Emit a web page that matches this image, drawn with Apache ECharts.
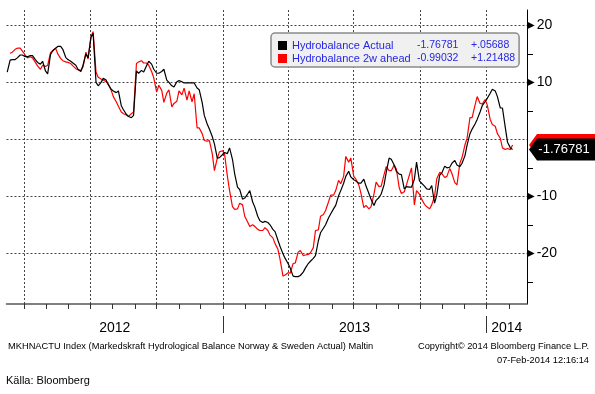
<!DOCTYPE html>
<html><head><meta charset="utf-8">
<script src="https://cdn.jsdelivr.net/npm/echarts@6/dist/echarts.min.js"></script>
<style>html,body{margin:0;padding:0;background:#fff;}#c{width:595px;height:394px;}</style>
</head><body><div id="c"></div>
<script>
// ---------- data (Thursday readings) ----------
const datesThu = [
'2012-03-08','2012-03-15','2012-03-22','2012-03-29','2012-04-05','2012-04-12','2012-04-19','2012-04-26','2012-05-03','2012-05-10',
'2012-05-17','2012-05-24','2012-05-31','2012-06-07','2012-06-14','2012-06-21','2012-06-28','2012-07-05','2012-07-12','2012-07-19',
'2012-07-26','2012-08-02','2012-08-09','2012-08-16','2012-08-23','2012-08-30','2012-09-06','2012-09-13','2012-09-20','2012-09-27',
'2012-10-04','2012-10-11','2012-10-18','2012-10-25','2012-11-01','2012-11-08','2012-11-15','2012-11-22','2012-11-29','2012-12-06',
'2012-12-13','2012-12-20','2012-12-27','2013-01-03','2013-01-10','2013-01-17','2013-01-24','2013-01-31','2013-02-07','2013-02-14',
'2013-02-21','2013-02-28','2013-03-07','2013-03-14','2013-03-21','2013-03-28','2013-04-04','2013-04-11','2013-04-18','2013-04-25',
'2013-05-02','2013-05-09','2013-05-16','2013-05-23','2013-05-30','2013-06-06','2013-06-13','2013-06-20','2013-06-27','2013-07-04',
'2013-07-11','2013-07-18','2013-07-25','2013-08-01','2013-08-08','2013-08-15','2013-08-22','2013-08-29','2013-09-05','2013-09-12',
'2013-09-19','2013-09-26','2013-10-03','2013-10-10','2013-10-17','2013-10-24','2013-10-31','2013-11-07','2013-11-14','2013-11-21',
'2013-11-28','2013-12-05','2013-12-12','2013-12-19','2013-12-26','2014-01-02','2014-01-09','2014-01-16','2014-01-23','2014-01-30',
'2014-02-06'];
const actualThu = [
11.8,14.0,14.3,14.8,14.5,14.7,13.5,13.7,11.5,15.5,
16.3,15.8,14.0,13.4,12.3,13.0,14.3,18.6,9.4,10.7,
9.6,8.5,8.5,5.2,4.0,4.2,11.6,11.8,13.7,12.3,
11.6,12.3,10.0,9.2,10.3,9.9,9.9,9.9,8.7,4.2,
1.8,-0.8,-3.2,-2.3,-1.5,-6.0,-8.8,-10.3,-9.0,-11.9,
-14.3,-14.4,-15.0,-16.2,-18.8,-20.9,-22.6,-24.1,-23.9,-22.6,
-21.4,-20.4,-16.4,-15.0,-13.1,-11.6,-9.0,-6.5,-6.6,-7.3,
-7.7,-8.2,-10.5,-10.7,-9.6,-5.8,-3.5,-5.6,-6.2,-8.3,
-8.4,-4.0,-7.7,-8.7,-8.1,-9.8,-5.9,-5.0,-4.2,-4.5,
-4.2,-1.0,1.8,3.5,5.9,7.2,8.8,7.5,5.5,-0.5,
-1.76781];
const aheadThu = [
null,15.3,16.0,15.5,14.3,14.3,12.9,13.0,13.0,15.6,
15.0,13.8,13.5,12.9,12.2,12.7,14.1,18.9,10.9,10.4,
9.7,7.5,5.8,4.5,4.0,4.8,13.6,13.4,13.0,10.8,
9.5,6.5,8.7,6.3,8.5,9.0,8.5,8.0,2.0,-0.2,
-0.2,-5.5,-2.2,-2.5,-9.0,-12.3,-11.2,-13.5,-15.3,-15.3,
-16.0,-15.5,-16.8,-18.3,-21.1,-23.8,-23.5,-21.7,-19.5,-20.3,
-19.9,-16.0,-13.5,-12.5,-9.8,-9.0,-7.8,-3.0,-3.3,-7.0,
-9.5,-11.6,-11.8,-7.5,-8.2,-4.8,-5.5,-5.2,-9.5,-8.0,
-5.0,-9.0,-10.5,-11.8,-11.5,-6.9,-6.0,-6.5,-6.0,-8.0,
-3.2,0.2,3.8,7.5,6.2,6.0,2.6,1.0,-1.5,-1.6,
-0.99032];
// ---------- data (Monday readings) ----------
const datesMon = [
'2012-03-12','2012-03-19','2012-03-26','2012-04-02','2012-04-09','2012-04-16','2012-04-23','2012-04-30','2012-05-07','2012-05-14',
'2012-05-21','2012-05-28','2012-06-04','2012-06-11','2012-06-18','2012-06-25','2012-07-02','2012-07-09','2012-07-16','2012-07-23',
'2012-07-30','2012-08-06','2012-08-13','2012-08-20','2012-08-27','2012-09-03','2012-09-10','2012-09-17','2012-09-24','2012-10-01',
'2012-10-08','2012-10-15','2012-10-22','2012-10-29','2012-11-05','2012-11-12','2012-11-19','2012-11-26','2012-12-03','2012-12-10',
'2012-12-17','2012-12-24','2012-12-31','2013-01-07','2013-01-14','2013-01-21','2013-01-28','2013-02-04','2013-02-11','2013-02-18',
'2013-02-25','2013-03-04','2013-03-11','2013-03-18','2013-03-25','2013-04-01','2013-04-08','2013-04-15','2013-04-22','2013-04-29',
'2013-05-06','2013-05-13','2013-05-20','2013-05-27','2013-06-03','2013-06-10','2013-06-17','2013-06-24','2013-07-01','2013-07-08',
'2013-07-15','2013-07-22','2013-07-29','2013-08-05','2013-08-12','2013-08-19','2013-08-26','2013-09-02','2013-09-09','2013-09-16',
'2013-09-23','2013-09-30','2013-10-07','2013-10-14','2013-10-21','2013-10-28','2013-11-04','2013-11-11','2013-11-18','2013-11-25',
'2013-12-02','2013-12-09','2013-12-16','2013-12-23','2013-12-30','2014-01-06','2014-01-13','2014-01-20','2014-01-27','2014-02-03'];
const actualMon = [
13.9,14.0,14.8,14.5,14.7,14.0,13.2,12.0,14.9,16.0,
16.3,14.4,13.7,13.0,11.9,15.0,17.9,10.0,10.0,10.4,
8.8,8.2,5.9,4.4,3.8,12.0,12.1,12.9,13.2,11.6,
11.9,10.4,9.4,10.1,10.1,9.9,9.9,9.0,6.5,2.7,
0.5,-3.3,-2.7,-2.5,-3.5,-8.4,-10.5,-9.6,-11.0,-13.5,
-14.6,-14.6,-15.8,-17.7,-20.1,-21.8,-24.0,-24.1,-23.3,-21.8,
-20.9,-17.8,-15.6,-13.8,-12.2,-9.9,-7.7,-5.6,-7.1,-7.7,
-7.0,-9.5,-11.6,-10.2,-8.0,-3.3,-4.5,-6.1,-8.7,-8.4,
-7.0,-7.3,-8.2,-8.8,-11.2,-6.3,-4.7,-4.9,-3.7,-4.8,
-2.9,1.0,2.7,4.8,6.6,8.1,8.5,5.5,2.0,-1.5];
const aheadMon = [
15.1,15.8,16.0,14.8,14.5,13.5,12.3,12.8,15.2,16.0,
14.2,13.6,13.3,12.4,12.1,15.3,18.0,11.8,10.6,10.1,
8.6,6.6,4.8,4.3,4.5,13.3,13.8,13.4,11.9,8.3,
8.6,8.1,5.7,6.7,7.8,6.9,6.6,2.0,1.0,-0.3,
-2.5,-3.3,-2.0,-6.5,-11.8,-12.2,-11.5,-14.5,-15.0,-15.8,
-16.0,-16.0,-17.3,-19.3,-24.0,-23.4,-21.8,-19.8,-20.4,-20.2,
-19.0,-15.9,-13.2,-11.0,-9.8,-7.2,-6.5,-4.0,-6.5,-8.0,
-12.0,-12.2,-9.6,-8.3,-6.2,-5.5,-4.5,-8.5,-9.2,-6.3,
-11.5,-9.6,-11.4,-12.2,-10.0,-5.8,-6.7,-5.1,-7.6,-4.2,
-1.0,3.8,6.0,6.3,7.0,3.5,2.3,0.2,-1.8,-1.8];

const seriesNames = ['Hydrobalance Actual', 'Hydrobalance 2w ahead'];
const lastValueText = ['-1.76781', '-0.99032'];
const changeText = ['+.05688', '+1.21488'];
const yLabelValues = [20, 10, -10, -20];
const yMinorTicks = [-25, -15, -5, 5, 15];
const yGridValues = [20, 10, 0, -10, -20];
const xRange = ['2012-03-07', '2014-02-26'];
const quarterLines = ['2012-04-01','2012-07-01','2012-10-01','2013-01-01','2013-04-01','2013-07-01','2013-10-01','2014-01-01'];
const monthTicks = ['2012-04-01','2012-05-01','2012-06-01','2012-07-01','2012-08-01','2012-09-01','2012-10-01','2012-11-01','2012-12-01',
  '2013-01-01','2013-02-01','2013-03-01','2013-04-01','2013-05-01','2013-06-01','2013-07-01','2013-08-01','2013-09-01','2013-10-01',
  '2013-11-01','2013-12-01','2014-01-01','2014-02-01'];
const yearNames = ['2012', '2013', '2014'];
const yearLabelDates = ['2012-08-04', '2013-07-02', '2014-01-29'];
const yearBreaks = ['2013-01-01', '2014-01-01'];
const footLeft = 'MKHNACTU Index (Markedskraft Hydrological Balance Norway & Sweden Actual) Maltin';
const footRight1 = 'Copyright\u00a9 2014 Bloomberg Finance L.P.';
const footRight2 = '07-Feb-2014 12:16:14';
const sourceText = 'K\u00e4lla: Bloomberg';

// ---------- chart ----------
const P = s => { const d = echarts.time.parse(s); return d && d.getTime ? d.getTime() : +d; };
const SANS = "'Liberation Sans',Arial,sans-serif";
const chart = echarts.init(document.getElementById('c'), null, {renderer: 'canvas'});
const xMin = P(xRange[0]), xMax = P(xRange[1]);
const gridLineStyle = {type: [2, 2], color: '#444', width: 1};
const tagPath = 'path://M0,11 L8,0 L66,0 L66,22 L8,22 Z';
const yearLabelTs = yearLabelDates.map(P);

function merge(dA, vA, dB, vB) {
  const pts = dA.map((d, i) => [P(d), vA[i]]).concat(dB.map((d, i) => [P(d), vB[i]]));
  pts.sort((a, b) => a[0] - b[0]);
  while (pts.length && pts[0][1] == null) pts.shift();
  return pts;
}
const actualData = merge(datesThu, actualThu, datesMon, actualMon);
const aheadData = merge(datesThu, aheadThu, datesMon, aheadMon);
const lastA = actualThu[actualThu.length - 1];
const lastR = aheadThu[aheadThu.length - 1];
const FOOT = {fontSize: 9.3, fontWeight: 'normal', color: '#000', fontFamily: SANS};

chart.setOption({
  animation: false,
  backgroundColor: '#fff',
  grid: {left: 6.5, right: 68, top: 10, bottom: 90, containLabel: false},
  title: [
    {text: footLeft, left: 8, top: 342, padding: 0, textStyle: FOOT},
    {text: footRight1, right: 6, top: 342, padding: 0, textStyle: FOOT},
    {text: footRight2, right: 6, top: 356, padding: 0, textStyle: FOOT},
    {text: sourceText, left: 6, top: 375, padding: 0, textStyle: {fontSize: 11, fontWeight: 'normal', color: '#000', fontFamily: SANS}}
  ],
  legend: {
    left: 271, top: 33, orient: 'vertical', itemWidth: 9, itemHeight: 9, itemGap: 2,
    icon: 'rect', selectedMode: false,
    backgroundColor: '#f0f0f0', borderColor: '#8a8a8a', borderWidth: 1.5, borderRadius: 4,
    padding: [7, 4, 3, 7],
    data: seriesNames,
    formatter: name => {
      const i = seriesNames.indexOf(name);
      return '{n|' + name + '}{v|' + lastValueText[i] + '}{c|' + changeText[i] + '}';
    },
    textStyle: {
      color: '#2626e6', fontFamily: SANS, fontSize: 11,
      rich: {
        n: {width: 125, fontSize: 11, color: '#2626e6', fontFamily: SANS, lineHeight: 13},
        v: {width: 54, fontSize: 10.5, color: '#2626e6', fontFamily: SANS, lineHeight: 13},
        c: {width: 44, fontSize: 10.5, color: '#2626e6', fontFamily: SANS, lineHeight: 13}
      }
    }
  },
  xAxis: [
    {
      type: 'value', min: xMin, max: xMax, scale: true,
      axisLine: {show: true, onZero: false, lineStyle: {color: '#555', width: 1.5}},
      axisTick: {show: true, customValues: monthTicks.map(P), length: 5, lineStyle: {color: '#333'}},
      axisLabel: {show: false},
      splitLine: {show: false}
    },
    {
      type: 'value', min: xMin, max: xMax, scale: true, position: 'bottom', offset: 12,
      axisLine: {show: false, onZero: false},
      axisTick: {show: true, customValues: yearBreaks.map(P), length: 17, lineStyle: {color: '#333', width: 1}},
      axisLabel: {
        show: true, customValues: yearLabelTs, margin: 5,
        fontSize: 14, color: '#000', fontFamily: SANS,
        formatter: v => {
          const k = yearLabelTs.indexOf(v);
          return k >= 0 ? yearNames[k] : String(new Date(v).getFullYear());
        }
      },
      splitLine: {show: false}
    }
  ],
  yAxis: {
    type: 'value', position: 'right', min: -28.9, max: 22.7,
    axisLine: {show: true, onZero: false, lineStyle: {color: '#000', width: 1}},
    axisTick: {show: true, customValues: yMinorTicks, length: 6, lineStyle: {color: '#000'}},
    axisLabel: {
      show: true, customValues: yLabelValues, margin: 0,
      formatter: v => '{t|\u25B6}{v|' + v + '}',
      rich: {
        t: {fontSize: 10, color: '#000', fontFamily: "'DejaVu Sans',sans-serif"},
        v: {fontSize: 14, color: '#000', fontFamily: SANS, padding: [0, 0, 0, 2]}
      }
    },
    splitLine: {show: false}
  },
  series: [
    {
      name: seriesNames[1], type: 'line', xAxisIndex: 0,
      data: aheadData,
      symbol: 'none', showSymbol: false, connectNulls: false,
      lineStyle: {color: '#ff0000', width: 1.2}, itemStyle: {color: '#ff0000'},
      z: 3,
      markLine: {
        silent: true, symbol: ['none', 'none'], z: 1, animation: false,
        label: {show: false}, lineStyle: gridLineStyle,
        emphasis: {disabled: true},
        data: yGridValues.map(v => ({yAxis: v})).concat(quarterLines.map(d => ({xAxis: P(d)})))
      },
      markPoint: {
        z: 8, silent: true, animation: false,
        symbol: tagPath, symbolSize: [66, 22], symbolKeepAspect: false, symbolOffset: [35, 0],
        itemStyle: {color: '#ff0000'},
        label: {show: false},
        data: [{coord: [xMax, lastR], value: lastR}]
      }
    },
    {
      name: seriesNames[0], type: 'line', xAxisIndex: 0,
      data: actualData,
      symbol: 'none', showSymbol: false,
      lineStyle: {color: '#000', width: 1.2}, itemStyle: {color: '#000'},
      z: 4,
      markPoint: {
        z: 9, silent: true, animation: false,
        symbol: tagPath, symbolSize: [66, 22], symbolKeepAspect: false, symbolOffset: [35, 0],
        itemStyle: {color: '#000'},
        label: {show: true, position: 'inside', offset: [2, 0], color: '#fff', fontSize: 13, fontFamily: SANS,
          formatter: () => lastValueText[0]},
        data: [{coord: [xMax, lastA], value: lastA}]
      }
    }
  ]
});
</script></body></html>
